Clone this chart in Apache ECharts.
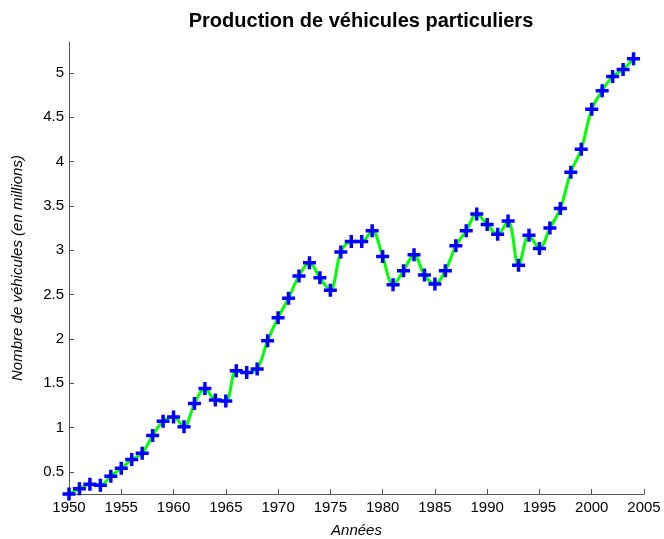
<!DOCTYPE html>
<html>
<head>
<meta charset="utf-8">
<script src="https://cdn.jsdelivr.net/npm/echarts@6/dist/echarts.min.js"></script>
<style>html,body{margin:0;padding:0;background:#fff;}#c{width:664px;height:539px;}</style>
</head>
<body>
<div id="c"></div>
<script>
var years = [1950,1951,1952,1953,1954,1955,1956,1957,1958,1959,1960,1961,1962,1963,1964,1965,1966,1967,1968,1969,1970,1971,1972,1973,1974,1975,1976,1977,1978,1979,1980,1981,1982,1983,1984,1985,1986,1987,1988,1989,1990,1991,1992,1993,1994,1995,1996,1997,1998,1999,2000,2001,2002,2003,2004];
var production = [0.25,0.31,0.36,0.35,0.45,0.54,0.64,0.71,0.91,1.07,1.12,1.01,1.27,1.44,1.31,1.30,1.64,1.62,1.66,1.98,2.24,2.46,2.71,2.86,2.69,2.55,2.98,3.10,3.10,3.22,2.93,2.61,2.77,2.95,2.72,2.62,2.77,3.05,3.22,3.41,3.29,3.18,3.33,2.83,3.17,3.02,3.25,3.47,3.88,4.14,4.59,4.80,4.96,5.04,5.16];
var yTicks = [0.5,1,1.5,2,2.5,3,3.5,4,4.5,5];
var xTicks = [1950,1955,1960,1965,1970,1975,1980,1985,1990,1995,2000,2005];

var pts = years.map(function(y,i){return [y, production[i]];});
var font = '"Liberation Sans", Arial, Helvetica, sans-serif';
var plus = 'path://M-1.75,-6.5 L1.75,-6.5 L1.75,-1.75 L6.5,-1.75 L6.5,1.75 L1.75,1.75 L1.75,6.5 L-1.75,6.5 L-1.75,1.75 L-6.5,1.75 L-6.5,-1.75 L-1.75,-1.75 Z';
var chart = echarts.init(document.getElementById('c'), null, {renderer:'canvas'});
chart.setOption({
  animation:false,
  backgroundColor:'#fff',
  title:{text:'Production de véhicules particuliers', left:356, top:6, textAlign:'center',
    textStyle:{fontFamily:font, fontSize:20, fontWeight:'bold', color:'#000'}},
  grid:{left:69, right:20, top:42, bottom:45, containLabel:false, outerBoundsMode:'none'},
  xAxis:{type:'value', min:1950, max:2005, interval:5,
    name:'Années', nameLocation:'middle', nameGap:29,
    nameTextStyle:{fontFamily:font, fontSize:15, fontStyle:'italic', color:'#000'},
    axisLine:{show:true, lineStyle:{color:'#555', width:1}},
    axisTick:{show:true, inside:true, length:5, lineStyle:{color:'#555'}},
    axisLabel:{fontFamily:font, fontSize:15, color:'#000', margin:6,
      customValues:xTicks, formatter:function(v){return String(v);}},
    splitLine:{show:false}},
  yAxis:{type:'value', min:0.25, max:5.35,
    name:'Nombre de véhicules (en millions)', nameLocation:'middle', nameGap:44,
    nameTextStyle:{fontFamily:font, fontSize:15, fontStyle:'italic', color:'#000'},
    axisLine:{show:true, lineStyle:{color:'#555', width:1}},
    axisTick:{show:true, inside:true, length:5, lineStyle:{color:'#555'}, customValues:yTicks},
    axisLabel:{fontFamily:font, fontSize:15, color:'#000', margin:5,
      customValues:yTicks, formatter:function(v){return String(v);}},
    splitLine:{show:false}},
  series:[{
    type:'line', data:pts, smooth:0.35,
    lineStyle:{color:'#00ff00', width:3},
    symbol:plus, symbolSize:13, showAllSymbol:true,
    itemStyle:{color:'#0000ff', borderWidth:0},
    clip:false, z:2
  }]
});
</script>
</body>
</html>
